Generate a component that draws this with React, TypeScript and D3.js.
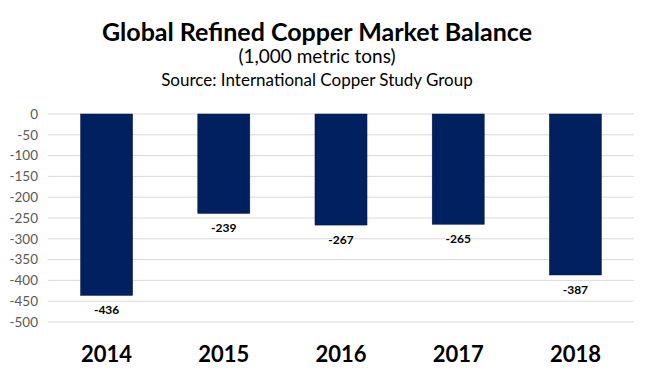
import React from "react";
import * as d3 from "d3";

const categories = ["2014", "2015", "2016", "2017", "2018"];
const values = [-436, -239, -267, -265, -387];
const yTicks = [0, -50, -100, -150, -200, -250, -300, -350, -400, -450, -500];

const W = 650, H = 378;
const FONT = "Lato, 'Open Sans', sans-serif";

export default function App() {
  const x = d3.scaleBand<string>().domain(categories).range([48, 634]).paddingInner(0.556).paddingOuter(0.278);
  const y = d3.scaleLinear().domain([0, -500]).range([114, 322]);
  return (
    <svg width={W} height={H} style={{ position: "absolute", left: 0, top: 0, background: "#fff" }} fontFamily={FONT}>
      <rect width={W} height={H} fill="#fff" />
      <text x={317} y={41} textAnchor="middle" fontSize={25} fontWeight={700} fill="#000">Global Refined Copper Market Balance</text>
      <text x={317} y={63} textAnchor="middle" fontSize={19} fill="#000">(1,000 metric tons)</text>
      <text x={317} y={86} textAnchor="middle" fontSize={17} fill="#000">Source: International Copper Study Group</text>
      {yTicks.map((t) => (
        <g key={t}>
          <line x1={48} x2={634} y1={y(t)} y2={y(t)} stroke="#d9d9d9" strokeWidth={1} />
          <text x={38} y={y(t)} dy="0.35em" textAnchor="end" fontSize={13.5} fill="#595959">{t}</text>
        </g>
      ))}
      {categories.map((c, i) => (
        <g key={c}>
          <rect x={x(c)} y={y(0)} width={x.bandwidth()} height={y(values[i]) - y(0)} fill="#002060" stroke="#001845" strokeWidth={0.5} />
          <text x={x(c)! + x.bandwidth() / 2} y={y(values[i]) + 19} textAnchor="middle" fontSize={12} fontWeight={700} fill="#000">{values[i]}</text>
          <text x={x(c)! + x.bandwidth() / 2} y={362} textAnchor="middle" fontSize={22} fontWeight={700} fill="#000">{c}</text>
        </g>
      ))}
    </svg>
  );
}
